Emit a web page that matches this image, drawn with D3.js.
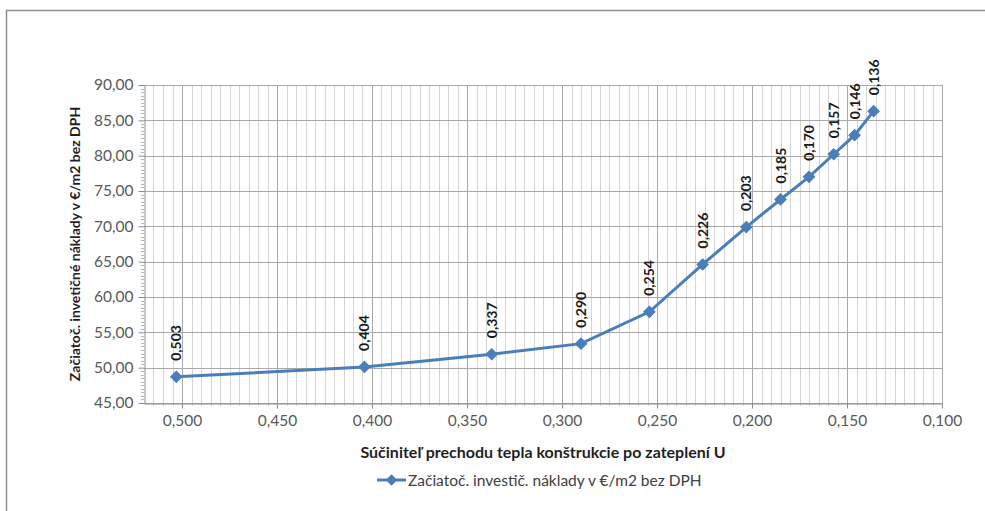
<!DOCTYPE html>
<html>
<head>
<meta charset="utf-8">
<script src="https://cdnjs.cloudflare.com/ajax/libs/d3/7.8.5/d3.min.js"></script>
<style>
  html, body { margin: 0; padding: 0; background: #fff; }
  svg { display: block; }
  text { font-family: Lato, "Open Sans", sans-serif; }
</style>
</head>
<body>
<svg id="chart" width="985" height="511"></svg>
<script>
// U-values of the insulated construction (W/m2K) and initial investment cost (€/m2 excl. VAT)
const uValues = [0.503, 0.404, 0.337, 0.290, 0.254, 0.226, 0.203, 0.185, 0.170, 0.157, 0.146, 0.136];
const costs   = [48.7, 50.1, 51.9, 53.4, 57.9, 64.6, 69.9, 73.8, 77.0, 80.2, 82.9, 86.3];
const xTicks  = [0.500, 0.450, 0.400, 0.350, 0.300, 0.250, 0.200, 0.150, 0.100];
const yTicks  = [45, 50, 55, 60, 65, 70, 75, 80, 85, 90];
const seriesName = "Začiatoč. investič. náklady v €/m2 bez DPH";
const xTitle = "Súčiniteľ prechodu tepla konštrukcie po zateplení U";
const yTitle = "Začiatoč. invetičné náklady v €/m2 bez DPH";

const svg = d3.select("#chart");
const plot = { left: 144, right: 942, top: 85, bottom: 403 };
const blue = "#4A7EBB";

const x = d3.scaleLinear().domain([0.52, 0.10]).range([plot.left, plot.right]);
const y = d3.scaleLinear().domain([45, 90]).range([plot.bottom, plot.top]);
const comma = f => v => d3.format(f)(v).replace(".", ",");

// outer chart frame
svg.append("rect")
  .attr("x", 6.5).attr("y", 10.5).attr("width", 1200).attr("height", 800)
  .attr("fill", "none").attr("stroke", "#8f8f8f").attr("stroke-width", 1.5);

// minor vertical gridlines every 0.005
const minorX = d3.range(1, 84).map(i => +(0.52 - i * 0.005).toFixed(3))
  .filter(v => Math.round(v * 1000) % 50 !== 0);
svg.append("g").selectAll("line").data(minorX).join("line")
  .attr("x1", d => Math.round(x(d)) + 0.5).attr("x2", d => Math.round(x(d)) + 0.5)
  .attr("y1", plot.top).attr("y2", plot.bottom + 3)
  .attr("stroke", "#d4d4d4").attr("stroke-width", 1);

// major gridlines
svg.append("g").selectAll("line").data(xTicks).join("line")
  .attr("x1", d => Math.round(x(d)) + 0.5).attr("x2", d => Math.round(x(d)) + 0.5)
  .attr("y1", plot.top).attr("y2", plot.bottom)
  .attr("stroke", "#a9a9a9").attr("stroke-width", 1);
svg.append("g").selectAll("line").data(yTicks).join("line")
  .attr("x1", plot.left).attr("x2", plot.right)
  .attr("y1", d => Math.round(y(d)) + 0.5).attr("y2", d => Math.round(y(d)) + 0.5)
  .attr("stroke", "#a9a9a9").attr("stroke-width", 1);

// x axis
const xAxis = d3.axisBottom(x).tickValues(xTicks).tickFormat(comma(".3f"))
  .tickSize(5).tickSizeOuter(0).tickPadding(6);
const gx = svg.append("g").attr("transform", `translate(0,${plot.bottom + 0.5})`).call(xAxis);
gx.select(".domain").attr("stroke", "#8c8c8c");
gx.selectAll(".tick line").attr("stroke", "#8c8c8c");
gx.selectAll("text").attr("fill", "#595959").attr("font-size", 15.5);

// y axis with minor ticks
const minorY = d3.range(45, 90.01, 0.5).filter(v => v % 5 !== 0);
svg.append("g").selectAll("line").data(minorY).join("line")
  .attr("x1", plot.left - 3).attr("x2", plot.left)
  .attr("y1", d => Math.round(y(d)) + 0.5).attr("y2", d => Math.round(y(d)) + 0.5)
  .attr("stroke", "#b5b5b5");
const yAxis = d3.axisLeft(y).tickValues(yTicks).tickFormat(comma(".2f"))
  .tickSize(6).tickSizeOuter(0).tickPadding(5);
const gy = svg.append("g").attr("transform", `translate(${plot.left + 0.5},0)`).call(yAxis);
gy.select(".domain").attr("stroke", "#8c8c8c");
gy.selectAll(".tick line").attr("stroke", "#8c8c8c");
gy.selectAll("text").attr("fill", "#595959").attr("font-size", 15.5);

// axis titles
svg.append("text")
  .attr("x", (plot.left + plot.right) / 2).attr("y", 458)
  .attr("text-anchor", "middle").attr("font-size", 16).attr("font-weight", "bold")
  .attr("fill", "#1f1f1f").text(xTitle);
svg.append("text")
  .attr("transform", `translate(80,${(plot.top + plot.bottom) / 2}) rotate(-90)`)
  .attr("text-anchor", "middle").attr("font-size", 14).attr("font-weight", "bold")
  .attr("fill", "#1f1f1f").text(yTitle);

// series
const points = uValues.map((u, i) => ({ u, c: costs[i] }));
svg.append("path").datum(points)
  .attr("fill", "none").attr("stroke", blue).attr("stroke-width", 3)
  .attr("d", d3.line().x(d => x(d.u)).y(d => y(d.c)));

// square markers turned 45° to form diamonds
const diamond = d3.symbol().type(d3.symbolSquare).size(64);
svg.append("g").selectAll("path").data(points).join("path")
  .attr("transform", d => `translate(${x(d.u)},${y(d.c)}) rotate(45)`)
  .attr("d", diamond).attr("fill", blue).attr("stroke", blue);

// data labels (U-value), rotated
svg.append("g").selectAll("text").data(points).join("text")
  .attr("transform", d => `translate(${x(d.u) + 5},${y(d.c) - 16}) rotate(-90)`)
  .attr("font-size", 14).attr("font-weight", "bold").attr("fill", "#1a1a1a")
  .text(d => comma(".3f")(d.u));

// legend
const lg = svg.append("g").attr("transform", "translate(377,480)");
lg.append("line").attr("x1", 0).attr("x2", 29).attr("y1", 0).attr("y2", 0)
  .attr("stroke", blue).attr("stroke-width", 3);
lg.append("path").attr("transform", "translate(14.5,0) rotate(45)").attr("d", diamond)
  .attr("fill", blue);
lg.append("text").attr("x", 31).attr("y", 5.5).attr("font-size", 15.5)
  .attr("fill", "#404040").text(seriesName);
</script>
</body>
</html>
